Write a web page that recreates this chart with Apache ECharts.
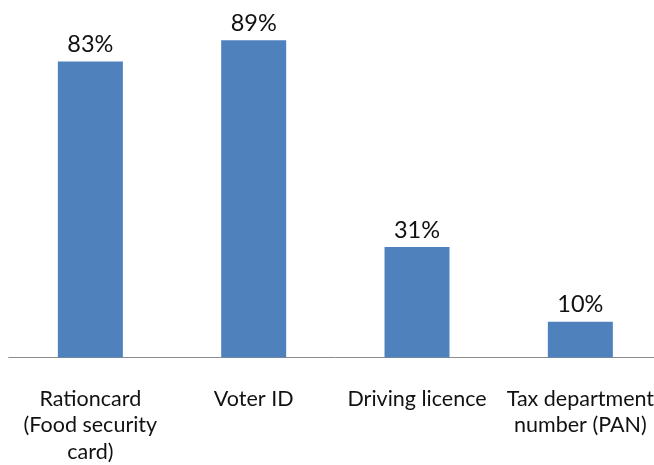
<!DOCTYPE html>
<html>
<head>
<meta charset="utf-8">
<script src="https://cdn.jsdelivr.net/npm/echarts@6/dist/echarts.min.js"></script>
<style>
  html, body { margin: 0; padding: 0; background: #ffffff; overflow: hidden; }
  /* the category band runs a few pixels past the right edge of the window */
  #chart { width: 662px; height: 465px; }
</style>
</head>
<body>
<div id="chart"></div>
<script>
// ID documents held, share of respondents (%)
const categories = [
  'Rationcard\n(Food security\ncard)',
  'Voter ID',
  'Driving licence',
  'Tax department\nnumber (PAN)'
];
const shares = [83, 89, 31, 10];

const chart = echarts.init(document.getElementById('chart'));
chart.setOption({
  animation: false,
  textStyle: { fontFamily: 'Lato, "Open Sans", sans-serif' },
  grid: { left: 8.7, top: 1, right: 0, bottom: 106, containLabel: false },
  xAxis: {
    type: 'category',
    data: categories,
    axisLine: { show: true, lineStyle: { color: '#8c8c8c', width: 1 } },
    axisTick: { show: false },
    axisLabel: {
      interval: 0,
      color: '#111111',
      fontSize: 21.5,
      lineHeight: 26.5,
      margin: 28,
      align: 'center'
    }
  },
  yAxis: {
    type: 'value',
    min: 0,
    max: 100,
    show: false,
    splitLine: { show: false }
  },
  series: [{
    type: 'bar',
    data: shares,
    barWidth: 65,
    itemStyle: { color: '#4F81BD' },
    label: {
      show: true,
      position: 'top',
      distance: 5,
      color: '#111111',
      fontSize: 23.5,
      formatter: p => p.value + '%'
    }
  }]
});
</script>
</body>
</html>
